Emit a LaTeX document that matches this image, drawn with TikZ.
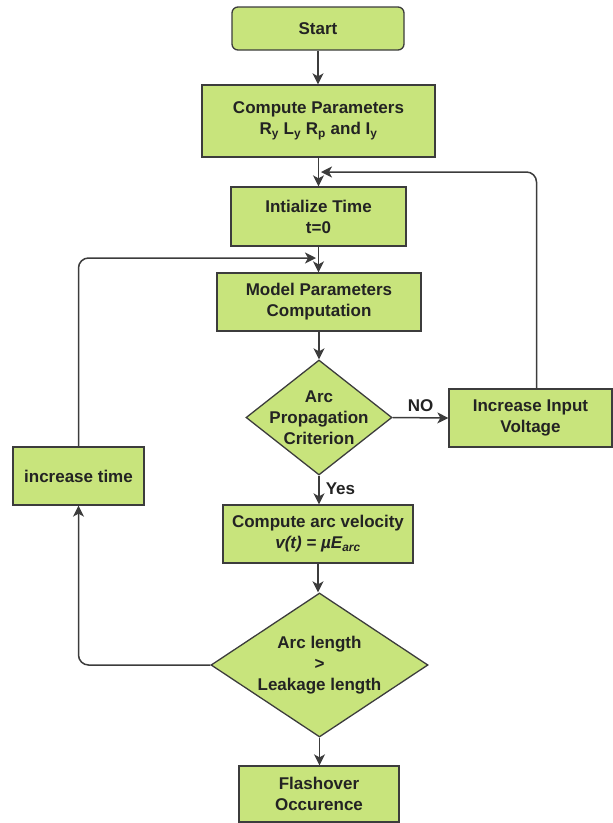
\documentclass[tikz,border=0pt]{standalone}
\usepackage{fontspec}
\setmainfont{Liberation Sans}
\usetikzlibrary{shapes.geometric,arrows.meta}
\definecolor{boxfill}{RGB}{200,228,124}
\definecolor{edgecol}{RGB}{60,60,60}
\definecolor{txt}{RGB}{35,35,35}
\begin{document}
\begin{tikzpicture}[x=1pt,y=-1pt,
 box/.style={draw=edgecol, fill=boxfill, line width=1.3pt, inner sep=0pt, align=center, text=txt, font=\bfseries\fontsize{17}{21}\selectfont},
 dia/.style={diamond, draw=edgecol, fill=boxfill, line width=1.3pt, inner sep=0pt},
 lbl/.style={align=center, text=txt, inner sep=0pt, font=\bfseries\fontsize{17}{21}\selectfont},
 arr/.style={draw=edgecol, line width=1.5pt, -{Stealth[length=11pt,width=11pt,inset=3pt]}}]
\useasboundingbox (0,0) rectangle (613,823);
\node[box, rounded corners=6pt, minimum width=172pt, minimum height=43pt] (start) at (318,28.5) {Start};
\node[box, minimum width=233pt, minimum height=72pt] (comp) at (318.5,121) {Compute Parameters\\R\textsubscript{y} L\textsubscript{y} R\textsubscript{p} and I\textsubscript{y}};
\node[box, minimum width=175pt, minimum height=59pt] (init) at (318.5,216.5) {Intialize Time\\t=0};
\node[box, minimum width=204pt, minimum height=58pt] (model) at (319,302) {Model Parameters\\Computation};
\node[dia, minimum width=146pt, minimum height=115pt] (arc1) at (319,417.5) {};
\node[lbl] (arc1t) at (arc1) {Arc\\Propagation\\Criterion};
\node[box, minimum width=163pt, minimum height=58pt] (volt) at (530.5,418) {Increase Input\\Voltage};
\node[box, minimum width=131pt, minimum height=58pt] (time) at (78.5,476) {increase time};
\node[box, minimum width=190pt, minimum height=58pt] (vel) at (318,534) {Compute arc velocity\\\textit{v(t) = \textmu E\textsubscript{arc}}};
\node[dia, minimum width=217pt, minimum height=144pt] (arc2) at (319.5,665) {};
\node[lbl] (arc2t) at (arc2) {Arc length\\>\\Leakage length};
\node[box, minimum width=160pt, minimum height=56pt] (flash) at (319,794) {Flashover\\Occurence};
\coordinate (fb1) at (321,172);
\coordinate (fb2) at (316,258);
\draw[arr] (start.south) -- (start.south |- comp.north);
\draw[arr] (comp.south) -- (comp.south |- init.north);
\draw[arr] (init.south) -- (init.south |- model.north);
\draw[arr] (model.south) -- (model.south |- arc1.north);
\draw[arr] (arc1.east) -- (volt.west) node[lbl, pos=0.5, above=5pt] (no) {NO};
\draw[arr] (arc1.south) -- (arc1.south |- vel.north) node[lbl, pos=0.45, right=6pt] (yes) {Yes};
\draw[arr] (vel.south) -- (vel.south |- arc2.north);
\draw[arr] (arc2.south) -- (arc2.south |- flash.north);
\draw[arr, rounded corners=10pt] ([xshift=6pt]volt.north) |- (fb1);
\draw[arr, rounded corners=10pt] (time.north) |- (fb2);
\draw[arr, rounded corners=10pt] (arc2.west) -| (time.south);
\end{tikzpicture}
\end{document}
